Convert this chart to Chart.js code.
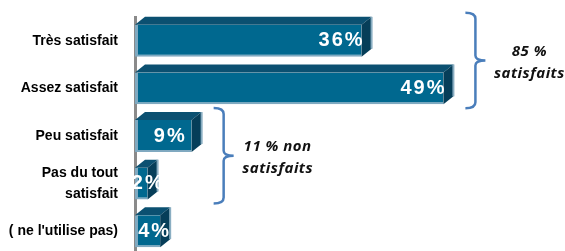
<!DOCTYPE html>
<html>
<head>
<meta charset="utf-8">
<script src="https://cdn.jsdelivr.net/npm/chart.js@4.4.1/dist/chart.umd.min.js"></script>
<style>
    html, body { margin: 0; padding: 0; overflow: hidden; background: #fff; }
    #wrap { width: 565px; height: 255px; }
</style>
</head>
<body>
<div id="wrap"><canvas id="myChart"></canvas></div>
<script>
// categories and values
const categories = ["Très satisfait", "Assez satisfait", "Peu satisfait", ["Pas du tout", "satisfait"], "( ne l'utilise pas)"];
const percentValues = [36, 49, 9, 2, 4];

// brace groups (index of first and last bar in each group)
const groupLabels = [["85 %", "satisfaits"], ["11 % non", "satisfaits"]];
const groupFirst = [0, 2];
const groupLast = [1, 3];

const axisMax = 68;

// 3D look
const depthX = 10;
const depthY = 8;

const bar3d = {
    id: "bar3d",
    afterDatasetsDraw(chart) {
        const ctx = chart.ctx;
        const meta = chart.getDatasetMeta(0);
        const bars = meta.data.map((b) => b.getProps(["x", "y", "base", "height"], true));

        ctx.save();
        bars.forEach((b) => {
            const top = b.y - b.height / 2;
            const bottom = b.y + b.height / 2;

            // top face
            ctx.fillStyle = "#0b5071";
            ctx.beginPath();
            ctx.moveTo(b.base, top);
            ctx.lineTo(b.base + depthX, top - depthY);
            ctx.lineTo(b.x + depthX, top - depthY);
            ctx.lineTo(b.x, top);
            ctx.closePath();
            ctx.fill();

            // side face
            ctx.fillStyle = "#063e59";
            ctx.beginPath();
            ctx.moveTo(b.x, top);
            ctx.lineTo(b.x + depthX, top - depthY);
            ctx.lineTo(b.x + depthX, bottom - depthY);
            ctx.lineTo(b.x, bottom);
            ctx.closePath();
            ctx.fill();

            // light edge on the far side
            ctx.strokeStyle = "#8aaec2";
            ctx.lineWidth = 2;
            ctx.beginPath();
            ctx.moveTo(b.x + depthX, top - depthY);
            ctx.lineTo(b.x + depthX, bottom - depthY);
            ctx.stroke();
        });

        // value labels
        ctx.fillStyle = "#fff";
        ctx.font = 'bold 20px "Liberation Sans", Arial, sans-serif';
        ctx.letterSpacing = "2px";
        ctx.textBaseline = "middle";
        bars.forEach((b, i) => {
            const txt = percentValues[i] + "%";
            if (b.x - b.base > 60) {
                ctx.textAlign = "right";
                ctx.fillText(txt, b.x + 3, b.y);
            } else {
                ctx.textAlign = "center";
                ctx.fillText(txt, (b.base + b.x + depthX) / 2 + 2, b.y);
            }
        });

        // braces
        ctx.strokeStyle = "#4a7ebb";
        ctx.lineWidth = 2.5;
        groupLabels.forEach((lines, g) => {
            const first = bars[groupFirst[g]];
            const last = bars[groupLast[g]];
            let right = 0;
            for (let i = groupFirst[g]; i <= groupLast[g]; i++) {
                right = Math.max(right, bars[i].x + depthX);
            }
            const bx = right + 22;
            const top = first.y - first.height / 2 - depthY - 4;
            const bottom = last.y + last.height / 2 + 4;
            const mid = (top + bottom) / 2;

            ctx.beginPath();
            ctx.moveTo(bx - 10, top);
            ctx.quadraticCurveTo(bx, top, bx, top + 6);
            ctx.lineTo(bx, mid - 5);
            ctx.quadraticCurveTo(bx, mid, bx + 10, mid);
            ctx.quadraticCurveTo(bx, mid, bx, mid + 5);
            ctx.lineTo(bx, bottom - 6);
            ctx.quadraticCurveTo(bx, bottom, bx - 10, bottom);
            ctx.stroke();

            ctx.fillStyle = "#111";
            ctx.font = 'italic bold 15px "Open Sans", sans-serif';
            ctx.letterSpacing = "0.5px";
            ctx.textAlign = "center";
            ctx.fillText(lines[0], bx + 54, mid - 9);
            ctx.fillText(lines[1], bx + 54, mid + 13);
        });
        ctx.restore();
    },
};

new Chart(document.getElementById("myChart"), {
    type: "bar",
    data: {
        labels: categories,
        datasets: [
            {
                data: percentValues,
                backgroundColor: "#00688f",
                borderColor: "#80a9c0",
                borderWidth: { left: 3, bottom: 2, top: 0, right: 0 },
                borderSkipped: false,
                categoryPercentage: 1,
                barPercentage: 0.67,
            },
        ],
    },
    options: {
        indexAxis: "y",
        responsive: true,
        maintainAspectRatio: false,
        animation: false,
        layout: { padding: { top: 17, right: 2, left: 0, bottom: 0 } },
        plugins: {
            legend: { display: false },
            tooltip: { enabled: false },
        },
        scales: {
            x: { display: false, min: 0, max: axisMax },
            y: {
                afterFit(scale) {
                    scale.width = 135;
                    scale.paddingTop = 0;
                    scale.paddingBottom = 0;
                },
                grid: { display: false, drawTicks: false },
                border: { color: "#8a8a8a", width: 3 },
                ticks: {
                    color: "#000",
                    padding: 17,
                    font: { family: '"Liberation Sans", Arial, sans-serif', weight: "bold", size: 14, lineHeight: 1.5 },
                },
            },
        },
    },
    plugins: [bar3d],
});
</script>
</body>
</html>
